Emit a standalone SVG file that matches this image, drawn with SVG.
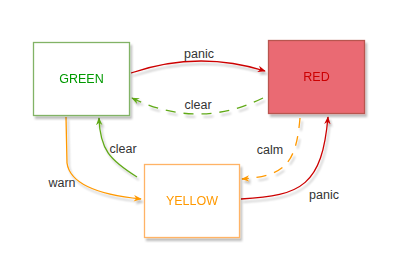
<svg xmlns="http://www.w3.org/2000/svg" width="400" height="275" viewBox="0 0 400 275">
<style>
.lbl{font-family:"Liberation Sans",Arial,sans-serif;font-size:12.5px;fill:#333333;text-anchor:middle}
.ntxt{font-family:"Liberation Sans",Arial,sans-serif;font-size:12.5px;text-anchor:middle}
.e{fill:none;stroke-width:1.3}
</style>
<defs>
<filter id="sh" x="-20%" y="-20%" width="140%" height="140%">
<feGaussianBlur in="SourceAlpha" stdDeviation="0.8"/>
<feOffset dx="2" dy="2.5" result="o"/>
<feComponentTransfer><feFuncA type="linear" slope="0.25"/></feComponentTransfer>
<feMerge><feMergeNode/><feMergeNode in="SourceGraphic"/></feMerge>
</filter>
<marker id="ar" viewBox="0 0 10 10" refX="9" refY="5" markerWidth="8" markerHeight="8" markerUnits="userSpaceOnUse" orient="auto"><path d="M0,1 L10,5 L0,9 L3,5 Z" fill="#cc0000"/></marker>
<marker id="ag" viewBox="0 0 10 10" refX="9" refY="5" markerWidth="8" markerHeight="8" markerUnits="userSpaceOnUse" orient="auto"><path d="M0,1 L10,5 L0,9 L3,5 Z" fill="#60a917"/></marker>
<marker id="ao" viewBox="0 0 10 10" refX="9" refY="5" markerWidth="8" markerHeight="8" markerUnits="userSpaceOnUse" orient="auto"><path d="M0,1 L10,5 L0,9 L3,5 Z" fill="#ff9900"/></marker>
</defs>
<g id="connectors" filter="url(#sh)">
<path class="e" d="M131,73 Q198,50 265,71" stroke="#cc0000" marker-end="url(#ar)"/>
<path class="e" d="M263,98 Q198,130 132,98" stroke="#60a917" stroke-dasharray="10,8" marker-end="url(#ag)"/>
<path class="e" d="M66,117 L67,163 Q71,192 141,199" stroke="#ff9900" marker-end="url(#ao)"/>
<path class="e" d="M137,177 C110,160 100,150 99,118" stroke="#60a917" marker-end="url(#ag)"/>
<path class="e" d="M300,118 C296,165 284,176 242,179" stroke="#ff9900" stroke-dasharray="10,8" marker-end="url(#ao)"/>
<path class="e" d="M241,199 C302,196 322,185 328,117" stroke="#cc0000" marker-end="url(#ar)"/>
</g>
<g id="labels">
<text class="lbl" x="199" y="58">panic</text>
<text class="lbl" x="198" y="109">clear</text>
<text class="lbl" x="62" y="187">warn</text>
<text class="lbl" x="123" y="153">clear</text>
<text class="lbl" x="270" y="154">calm</text>
<text class="lbl" x="324" y="199">panic</text>
</g>
<g id="GREEN" filter="url(#sh)">
<rect x="33.5" y="42.5" width="96" height="73" fill="#ffffff" stroke="#82b366" stroke-width="1.3"/>
<text class="ntxt" x="81.5" y="83" fill="#009900">GREEN</text>
</g>
<g id="RED" filter="url(#sh)">
<rect x="268.5" y="40.5" width="96" height="73" fill="#ea6b73" stroke="#b85450" stroke-width="1.3"/>
<text class="ntxt" x="316.5" y="81" fill="#cc0000">RED</text>
</g>
<g id="YELLOW" filter="url(#sh)">
<rect x="144.5" y="164.5" width="95" height="73" fill="#ffffff" stroke="#ffb366" stroke-width="1.3"/>
<text class="ntxt" x="192" y="205" fill="#ff9900">YELLOW</text>
</g>
</svg>
